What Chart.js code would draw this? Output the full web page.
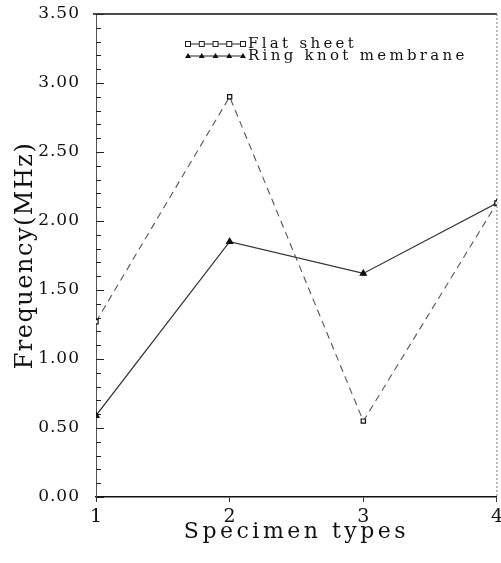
<!DOCTYPE html>
<html>
<head>
<meta charset="utf-8">
<script src="https://cdn.jsdelivr.net/npm/chart.js@4.4.1/dist/chart.umd.min.js"></script>
<style>
  html, body { margin: 0; padding: 0; background: #fff; overflow: hidden; }
  #wrap { width: 507px; height: 563px; }
</style>
</head>
<body>
<div id="wrap"><canvas id="chart"></canvas></div>
<script>
// --- DATOS ---
const specimenTypes = [1, 2, 3, 4];
const flatSheet = [1.27, 2.90, 0.55, 2.13];
const ringKnot = [0.59, 1.85, 1.62, 2.13];
const yTicks = [0, 0.5, 1, 1.5, 2, 2.5, 3, 3.5];
const seriesNames = ['Flat sheet', 'Ring knot membrane'];

const SERIF = '"DejaVu Serif", "Liberation Serif", serif';

// espaciado de letras solo para ciertos textos
function conEspaciado(ctx, px, fn) {
    ctx.save();
    ctx.letterSpacing = px + 'px';
    fn();
    ctx.restore();
}

// --- PLUGIN: bordes, marcas menores y leyenda ---
const decoraciones = {
    id: 'decoraciones',
    beforeDraw(chart) {
        // espaciado de títulos y ticks
        ['x', 'y'].forEach(id => {
            const s = chart.scales[id];
            if (s && !s._parcheado) {
                const origTitle = s.drawTitle;
                s.drawTitle = function () {
                    conEspaciado(this.ctx, id === 'x' ? 3.5 : 1.5, () => origTitle.apply(this, arguments));
                };
                const origLabels = s.drawLabels;
                s.drawLabels = function () {
                    conEspaciado(this.ctx, id === 'x' ? 0 : 1, () => origLabels.apply(this, arguments));
                };
                s._parcheado = true;
            }
        });
    },
    beforeDatasetsDraw(chart) {
        const { ctx, chartArea: a, scales: { y } } = chart;
        ctx.save();
        // línea superior
        ctx.strokeStyle = '#111';
        ctx.lineWidth = 1.5;
        ctx.beginPath();
        ctx.moveTo(a.left - 3, a.top);
        ctx.lineTo(a.right, a.top);
        ctx.stroke();
        // línea derecha punteada
        ctx.strokeStyle = '#777';
        ctx.lineWidth = 1;
        ctx.setLineDash([2, 2]);
        ctx.beginPath();
        ctx.moveTo(a.right, a.top);
        ctx.lineTo(a.right, a.bottom);
        ctx.stroke();
        ctx.setLineDash([]);
        // marcas del eje y hacia dentro
        ctx.strokeStyle = '#222';
        ctx.lineWidth = 1;
        for (let k = 0; k <= 35; k++) {
            const py = Math.round(y.getPixelForValue(k / 10)) + 0.5;
            const len = (k % 5 === 0) ? 8 : 5;
            ctx.beginPath();
            ctx.moveTo(a.left, py);
            ctx.lineTo(a.left + len, py);
            ctx.stroke();
        }
        ctx.restore();
    },
    afterDraw(chart) {
        const { ctx } = chart;
        ctx.save();
        const x0 = 188, x1 = 243;
        chart.data.datasets.forEach((ds, i) => {
            const yy = 44 + i * 12;
            ctx.strokeStyle = '#222';
            ctx.lineWidth = 1;
            ctx.setLineDash([]);
            ctx.beginPath();
            ctx.moveTo(x0, yy);
            ctx.lineTo(x1, yy);
            ctx.stroke();
            for (let m = 0; m < 5; m++) {
                const mx = x0 + m * (x1 - x0) / 4;
                if (i === 0) {
                    ctx.fillStyle = '#fff';
                    ctx.fillRect(mx - 2.5, yy - 2.5, 5, 5);
                    ctx.strokeRect(mx - 2.5, yy - 2.5, 5, 5);
                } else {
                    ctx.fillStyle = '#111';
                    ctx.beginPath();
                    ctx.moveTo(mx, yy - 3);
                    ctx.lineTo(mx + 3, yy + 2);
                    ctx.lineTo(mx - 3, yy + 2);
                    ctx.closePath();
                    ctx.fill();
                }
            }
            ctx.fillStyle = '#111';
            ctx.font = '15px ' + SERIF;
            ctx.textBaseline = 'middle';
            ctx.letterSpacing = '3.3px';
            ctx.fillText(ds.label, 248, yy);
            ctx.letterSpacing = '0px';
        });
        ctx.restore();
    }
};

const toXY = vals => vals.map((v, i) => ({ x: specimenTypes[i], y: v }));

new Chart(document.getElementById('chart'), {
    type: 'line',
    data: {
        datasets: [
            {
                label: seriesNames[0],
                data: toXY(flatSheet),
                borderColor: '#555',
                borderWidth: 1.1,
                borderDash: [7, 5],
                pointStyle: 'rect',
                pointRadius: 3,
                pointBackgroundColor: '#fff',
                pointBorderColor: '#111',
                pointBorderWidth: 1.2,
                tension: 0
            },
            {
                label: seriesNames[1],
                data: toXY(ringKnot),
                borderColor: '#333',
                borderWidth: 1.2,
                pointStyle: 'triangle',
                pointRadius: 3.5,
                pointBackgroundColor: '#111',
                pointBorderColor: '#111',
                tension: 0
            }
        ]
    },
    options: {
        responsive: true,
        maintainAspectRatio: false,
        animation: false,
        layout: { padding: { top: 14, right: 0, left: 0, bottom: 0 } },
        plugins: {
            legend: { display: false },
            tooltip: { enabled: false }
        },
        scales: {
            x: {
                type: 'linear',
                min: 1,
                max: 4,
                afterBuildTicks: s => { s.ticks = specimenTypes.map(v => ({ value: v })); },
                afterFit: s => { s.height = 66; },
                border: { display: true, color: '#111', width: 1.5 },
                grid: { drawOnChartArea: false, drawTicks: true, tickLength: 5, color: '#333' },
                ticks: {
                    color: '#111',
                    font: { family: SERIF, size: 19 },
                    padding: 4,
                    callback: v => String(v)
                },
                title: {
                    display: true,
                    text: 'Specimen types',
                    color: '#111',
                    font: { family: SERIF, size: 22 },
                    padding: { top: 0, bottom: 18 }
                }
            },
            y: {
                min: 0,
                max: 3.5,
                afterBuildTicks: s => { s.ticks = yTicks.map(v => ({ value: v })); },
                afterFit: s => { s.width = 96; s.paddingTop = 0; s.paddingBottom = 0; },
                border: { display: true, color: '#555', width: 1, dash: [2, 2] },
                grid: { drawOnChartArea: false, drawTicks: false },
                ticks: {
                    color: '#111',
                    font: { family: SERIF, size: 17 },
                    padding: 16,
                    callback: v => v.toFixed(2)
                },
                title: {
                    display: true,
                    text: 'Frequency(MHz)',
                    color: '#111',
                    font: { family: SERIF, size: 24 },
                    padding: { top: 11, bottom: 0 }
                }
            }
        }
    },
    plugins: [decoraciones]
});
</script>
</body>
</html>
